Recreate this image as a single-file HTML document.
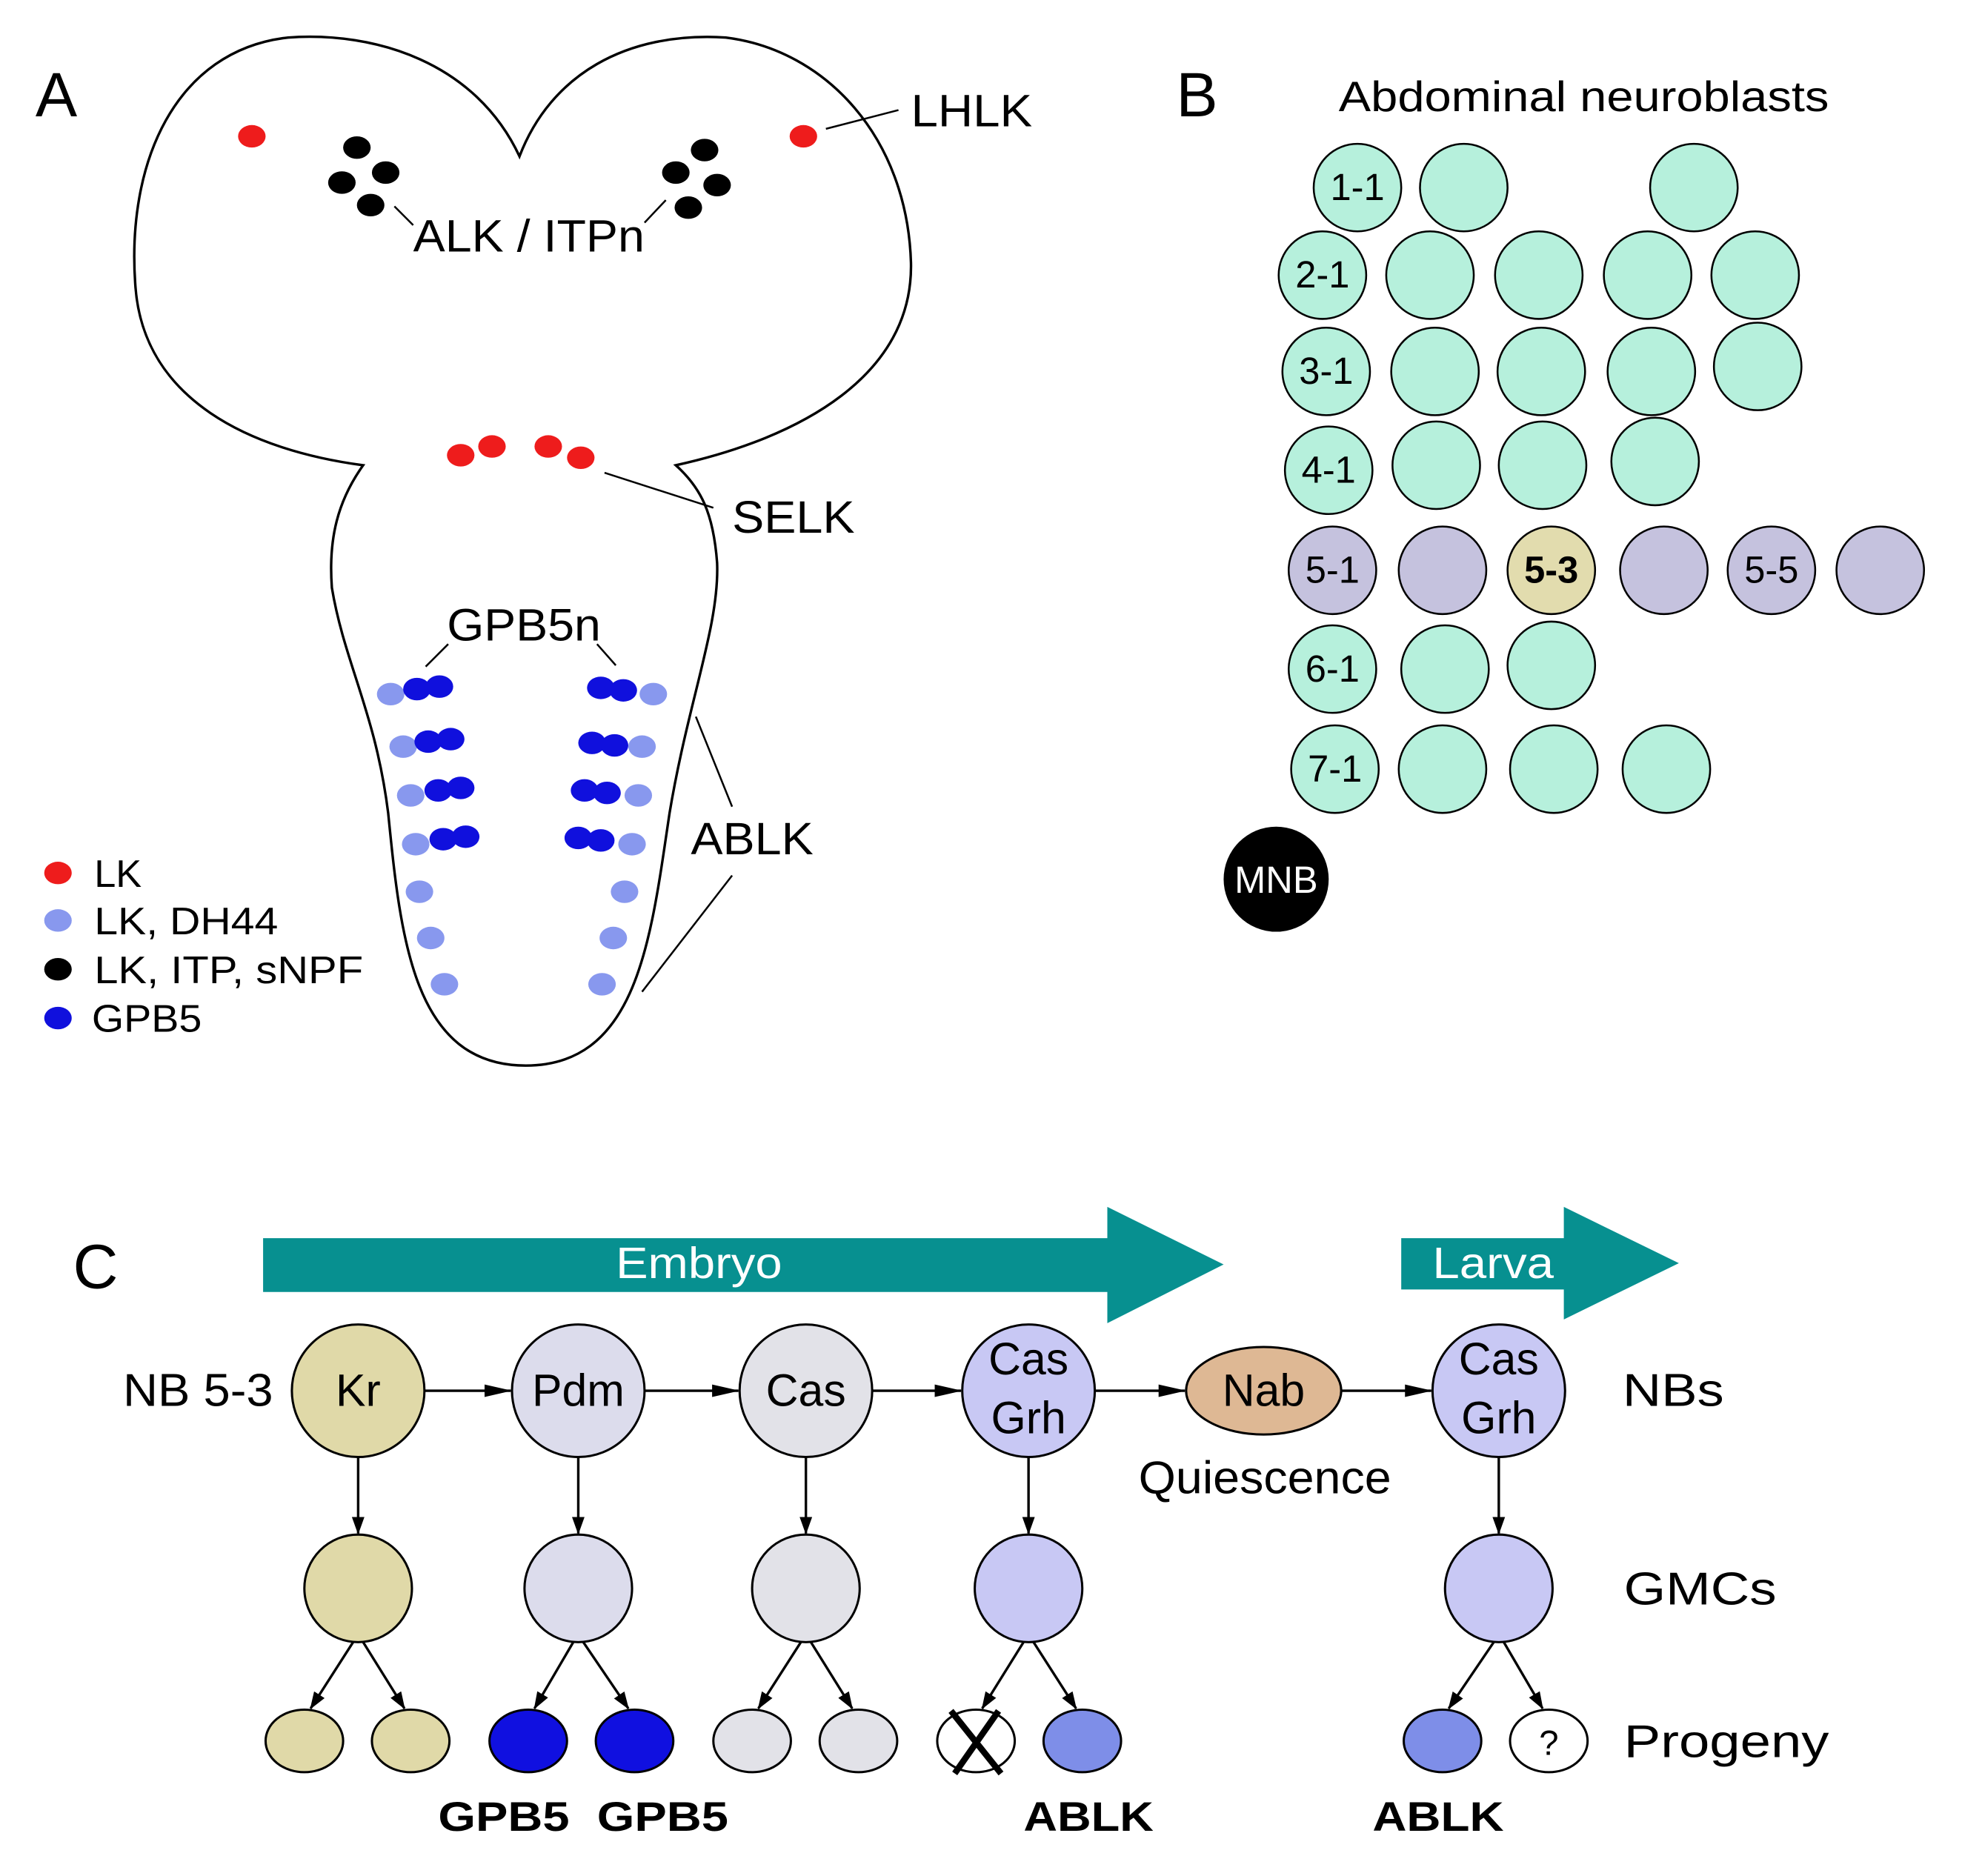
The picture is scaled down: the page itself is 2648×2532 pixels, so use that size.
<!DOCTYPE html>
<html><head><meta charset="utf-8"><style>html,body{margin:0;padding:0;background:#fff}svg{display:block}</style></head><body>
<svg width="2648" height="2532" viewBox="0 0 1568 1500" xmlns="http://www.w3.org/2000/svg" font-family="Liberation Sans, sans-serif">
<defs><marker id="ar" markerWidth="14" markerHeight="10" refX="13" refY="5" orient="auto" markerUnits="userSpaceOnUse" viewBox="0 0 14 10"><path d="M0,0 L14,5 L0,10 Z" fill="#000"/></marker>
<marker id="ar2" markerWidth="22" markerHeight="12" refX="21" refY="6" orient="auto" markerUnits="userSpaceOnUse" viewBox="0 0 22 12"><path d="M0,1 L22,6 L0,11 Z" fill="#000"/></marker></defs>
<!-- Panel A -->
<text x="28" y="93" font-size="50">A</text>
<path d="M415,125 C380,50 300,25 230,30 C140,40 100,130 108,230 C115,320 200,360 290,372 C270,400 262,430 265,470 C275,530 300,570 310,650 C320,750 330,852 420,852 C510,852 520,750 535,650 C550,560 575,500 573,450 C570,410 560,390 540,372 C640,350 730,300 728,210 C725,110 660,40 580,30 C500,25 440,60 415,125 Z" fill="#fff" stroke="#000" stroke-width="2"/>
<g fill="#ee1c1c"><ellipse cx="201" cy="109" rx="11" ry="9"/><ellipse cx="642" cy="109" rx="11" ry="9"/><ellipse cx="368" cy="364" rx="11" ry="9"/><ellipse cx="393" cy="357" rx="11" ry="9"/><ellipse cx="438" cy="357" rx="11" ry="9"/><ellipse cx="464" cy="366" rx="11" ry="9"/></g>
<g fill="#000"><ellipse cx="285" cy="118" rx="11" ry="9"/><ellipse cx="308" cy="138" rx="11" ry="9"/><ellipse cx="273" cy="146" rx="11" ry="9"/><ellipse cx="296" cy="164" rx="11" ry="9"/><ellipse cx="563" cy="120" rx="11" ry="9"/><ellipse cx="540" cy="138" rx="11" ry="9"/><ellipse cx="573" cy="148" rx="11" ry="9"/><ellipse cx="550" cy="166" rx="11" ry="9"/></g>
<g stroke="#000" stroke-width="1.5" fill="none"><line x1="315" y1="165" x2="330" y2="180"/><line x1="532" y1="160" x2="515" y2="178"/><line x1="660" y1="103" x2="718" y2="88"/><line x1="483" y1="378" x2="570" y2="406"/><line x1="358" y1="515" x2="340" y2="533"/><line x1="477" y1="515" x2="492" y2="532"/><line x1="556" y1="573" x2="585" y2="645"/><line x1="585" y1="700" x2="513" y2="793"/></g>
<g font-size="36" lengthAdjust="spacingAndGlyphs"><text x="330" y="201" textLength="185" lengthAdjust="spacingAndGlyphs">ALK / ITPn</text><text x="728" y="101" textLength="97" lengthAdjust="spacingAndGlyphs">LHLK</text><text x="585" y="426" textLength="98" lengthAdjust="spacingAndGlyphs">SELK</text><text x="357" y="512" textLength="123" lengthAdjust="spacingAndGlyphs">GPB5n</text><text x="552" y="683" textLength="98" lengthAdjust="spacingAndGlyphs">ABLK</text></g>
<g fill="#8898ee"><ellipse cx="312" cy="555" rx="11" ry="9"/><ellipse cx="322" cy="597" rx="11" ry="9"/><ellipse cx="328" cy="636" rx="11" ry="9"/><ellipse cx="332" cy="675" rx="11" ry="9"/><ellipse cx="522" cy="555" rx="11" ry="9"/><ellipse cx="513" cy="597" rx="11" ry="9"/><ellipse cx="510" cy="636" rx="11" ry="9"/><ellipse cx="505" cy="675" rx="11" ry="9"/><ellipse cx="335" cy="713" rx="11" ry="9"/><ellipse cx="344" cy="750" rx="11" ry="9"/><ellipse cx="355" cy="787" rx="11" ry="9"/><ellipse cx="499" cy="713" rx="11" ry="9"/><ellipse cx="490" cy="750" rx="11" ry="9"/><ellipse cx="481" cy="787" rx="11" ry="9"/></g>
<g fill="#1010dd"><ellipse cx="333" cy="551" rx="11" ry="9"/><ellipse cx="351" cy="549" rx="11" ry="9"/><ellipse cx="342" cy="593" rx="11" ry="9"/><ellipse cx="360" cy="591" rx="11" ry="9"/><ellipse cx="350" cy="632" rx="11" ry="9"/><ellipse cx="368" cy="630" rx="11" ry="9"/><ellipse cx="354" cy="671" rx="11" ry="9"/><ellipse cx="372" cy="669" rx="11" ry="9"/><ellipse cx="480" cy="550" rx="11" ry="9"/><ellipse cx="498" cy="552" rx="11" ry="9"/><ellipse cx="473" cy="594" rx="11" ry="9"/><ellipse cx="491" cy="596" rx="11" ry="9"/><ellipse cx="467" cy="632" rx="11" ry="9"/><ellipse cx="485" cy="634" rx="11" ry="9"/><ellipse cx="462" cy="670" rx="11" ry="9"/><ellipse cx="480" cy="672" rx="11" ry="9"/></g>
<ellipse cx="46" cy="698" rx="11" ry="9" fill="#ee1c1c"/><ellipse cx="46" cy="736" rx="11" ry="9" fill="#8898ee"/><ellipse cx="46" cy="775" rx="11" ry="9" fill="#000"/><ellipse cx="46" cy="814" rx="11" ry="9" fill="#1010dd"/>
<g font-size="31"><text x="75" y="709">LK</text><text x="75" y="747" textLength="147" lengthAdjust="spacingAndGlyphs">LK, DH44</text><text x="75" y="786" textLength="215" lengthAdjust="spacingAndGlyphs">LK, ITP, sNPF</text><text x="73" y="825" textLength="88" lengthAdjust="spacingAndGlyphs">GPB5</text></g>
<!-- Panel B -->
<text x="940" y="93" font-size="50">B</text>
<text x="1070" y="89" font-size="34" textLength="392" lengthAdjust="spacingAndGlyphs">Abdominal neuroblasts</text>
<g stroke="#000" stroke-width="1.5" fill="#b6f0dc">
<circle cx="1085" cy="150" r="35"/><circle cx="1170" cy="150" r="35"/><circle cx="1354" cy="150" r="35"/>
<circle cx="1057" cy="220" r="35"/><circle cx="1143" cy="220" r="35"/><circle cx="1230" cy="220" r="35"/><circle cx="1317" cy="220" r="35"/><circle cx="1403" cy="220" r="35"/>
<circle cx="1060" cy="297" r="35"/><circle cx="1147" cy="297" r="35"/><circle cx="1232" cy="297" r="35"/><circle cx="1320" cy="297" r="35"/><circle cx="1405" cy="293" r="35"/>
<circle cx="1062" cy="376" r="35"/><circle cx="1148" cy="372" r="35"/><circle cx="1233" cy="372" r="35"/><circle cx="1323" cy="369" r="35"/>
<circle cx="1065" cy="535" r="35"/><circle cx="1155" cy="535" r="35"/><circle cx="1240" cy="532" r="35"/>
<circle cx="1067" cy="615" r="35"/><circle cx="1153" cy="615" r="35"/><circle cx="1242" cy="615" r="35"/><circle cx="1332" cy="615" r="35"/>
</g>
<g stroke="#000" stroke-width="1.5" fill="#c5c2de"><circle cx="1065" cy="456" r="35"/><circle cx="1153" cy="456" r="35"/><circle cx="1330" cy="456" r="35"/><circle cx="1416" cy="456" r="35"/><circle cx="1503" cy="456" r="35"/></g>
<circle cx="1240" cy="456" r="35" fill="#e2dcae" stroke="#000" stroke-width="1.5"/>
<circle cx="1020" cy="703" r="42" fill="#000"/>
<g font-size="30" text-anchor="middle"><text x="1085" y="160">1-1</text><text x="1057" y="230">2-1</text><text x="1060" y="307">3-1</text><text x="1062" y="386">4-1</text><text x="1065" y="466">5-1</text><text x="1240" y="466" font-weight="bold">5-3</text><text x="1416" y="466">5-5</text><text x="1065" y="545">6-1</text><text x="1067" y="625">7-1</text><text x="1020" y="714" fill="#fff">MNB</text></g>
<!-- Panel C -->
<text x="58" y="1030" font-size="50">C</text>
<path d="M210,990 H885 V965 L978,1011 L885,1058 V1033 H210 Z" fill="#079090"/>
<path d="M1120,990 H1250 V965 L1342,1010 L1250,1055 V1031 H1120 Z" fill="#079090"/>
<g font-size="35" fill="#fff"><text x="492" y="1022" textLength="133" lengthAdjust="spacingAndGlyphs">Embryo</text><text x="1145" y="1022" textLength="97" lengthAdjust="spacingAndGlyphs">Larva</text></g>
<g stroke="#000" stroke-width="1.8">
<circle cx="286" cy="1112" r="53" fill="#e0d9a8"/><circle cx="462" cy="1112" r="53" fill="#dcdcec"/><circle cx="644" cy="1112" r="53" fill="#e2e2e8"/><circle cx="822" cy="1112" r="53" fill="#c8c8f4"/><ellipse cx="1010" cy="1112" rx="62" ry="35" fill="#deb894"/><circle cx="1198" cy="1112" r="53" fill="#c8c8f4"/>
<circle cx="286" cy="1270" r="43" fill="#e0d9a8"/><circle cx="462" cy="1270" r="43" fill="#dcdcec"/><circle cx="644" cy="1270" r="43" fill="#e2e2e8"/><circle cx="822" cy="1270" r="43" fill="#c8c8f4"/><circle cx="1198" cy="1270" r="43" fill="#c8c8f4"/>
<ellipse cx="243" cy="1392" rx="31" ry="25" fill="#e0d9a8"/><ellipse cx="328" cy="1392" rx="31" ry="25" fill="#e0d9a8"/><ellipse cx="422" cy="1392" rx="31" ry="25" fill="#1010e0"/><ellipse cx="507" cy="1392" rx="31" ry="25" fill="#1010e0"/><ellipse cx="601" cy="1392" rx="31" ry="25" fill="#e2e2e8"/><ellipse cx="686" cy="1392" rx="31" ry="25" fill="#e2e2e8"/><ellipse cx="780" cy="1392" rx="31" ry="25" fill="#fff"/><ellipse cx="865" cy="1392" rx="31" ry="25" fill="#7e8ee8"/><ellipse cx="1153" cy="1392" rx="31" ry="25" fill="#7e8ee8"/><ellipse cx="1238" cy="1392" rx="31" ry="25" fill="#fff"/>
</g>
<g stroke="#000" stroke-width="5"><line x1="760" y1="1368" x2="800" y2="1418"/><line x1="798" y1="1368" x2="763" y2="1418"/></g>
<g stroke="#000" stroke-width="2" marker-end="url(#ar2)">
<line x1="339" y1="1112" x2="408" y2="1112"/><line x1="515" y1="1112" x2="590" y2="1112"/><line x1="697" y1="1112" x2="768" y2="1112"/><line x1="875" y1="1112" x2="947" y2="1112"/><line x1="1072" y1="1112" x2="1144" y2="1112"/>
</g>
<g stroke="#000" stroke-width="2" marker-end="url(#ar)">
<line x1="286" y1="1165" x2="286" y2="1226"/><line x1="462" y1="1165" x2="462" y2="1226"/><line x1="644" y1="1165" x2="644" y2="1226"/><line x1="822" y1="1165" x2="822" y2="1226"/><line x1="1198" y1="1165" x2="1198" y2="1226"/>
<line x1="282" y1="1313" x2="248" y2="1366"/><line x1="290" y1="1313" x2="323" y2="1366"/>
<line x1="458" y1="1313" x2="427" y2="1366"/><line x1="466" y1="1313" x2="502" y2="1366"/>
<line x1="640" y1="1313" x2="606" y2="1366"/><line x1="648" y1="1313" x2="681" y2="1366"/>
<line x1="818" y1="1313" x2="785" y2="1366"/><line x1="826" y1="1313" x2="860" y2="1366"/>
<line x1="1194" y1="1313" x2="1158" y2="1366"/><line x1="1202" y1="1313" x2="1233" y2="1366"/>
</g>
<g font-size="36" text-anchor="middle"><text x="286" y="1124">Kr</text><text x="462" y="1124">Pdm</text><text x="644" y="1124">Cas</text><text x="822" y="1099">Cas</text><text x="822" y="1146">Grh</text><text x="1010" y="1124">Nab</text><text x="1198" y="1099">Cas</text><text x="1198" y="1146">Grh</text><text x="1238" y="1403" font-size="28">?</text></g>
<g font-size="37"><text x="910" y="1194" textLength="202" lengthAdjust="spacingAndGlyphs">Quiescence</text><text x="98" y="1124" textLength="120" lengthAdjust="spacingAndGlyphs">NB 5-3</text><text x="1297" y="1124" textLength="81" lengthAdjust="spacingAndGlyphs">NBs</text><text x="1298" y="1283" textLength="122" lengthAdjust="spacingAndGlyphs">GMCs</text><text x="1298" y="1405" textLength="164" lengthAdjust="spacingAndGlyphs">Progeny</text></g>
<g font-size="33" font-weight="bold"><text x="350" y="1464" textLength="105" lengthAdjust="spacingAndGlyphs">GPB5</text><text x="477" y="1464" textLength="105" lengthAdjust="spacingAndGlyphs">GPB5</text><text x="818" y="1464" textLength="104" lengthAdjust="spacingAndGlyphs">ABLK</text><text x="1097" y="1464" textLength="105" lengthAdjust="spacingAndGlyphs">ABLK</text></g>
</svg>
</body></html>
